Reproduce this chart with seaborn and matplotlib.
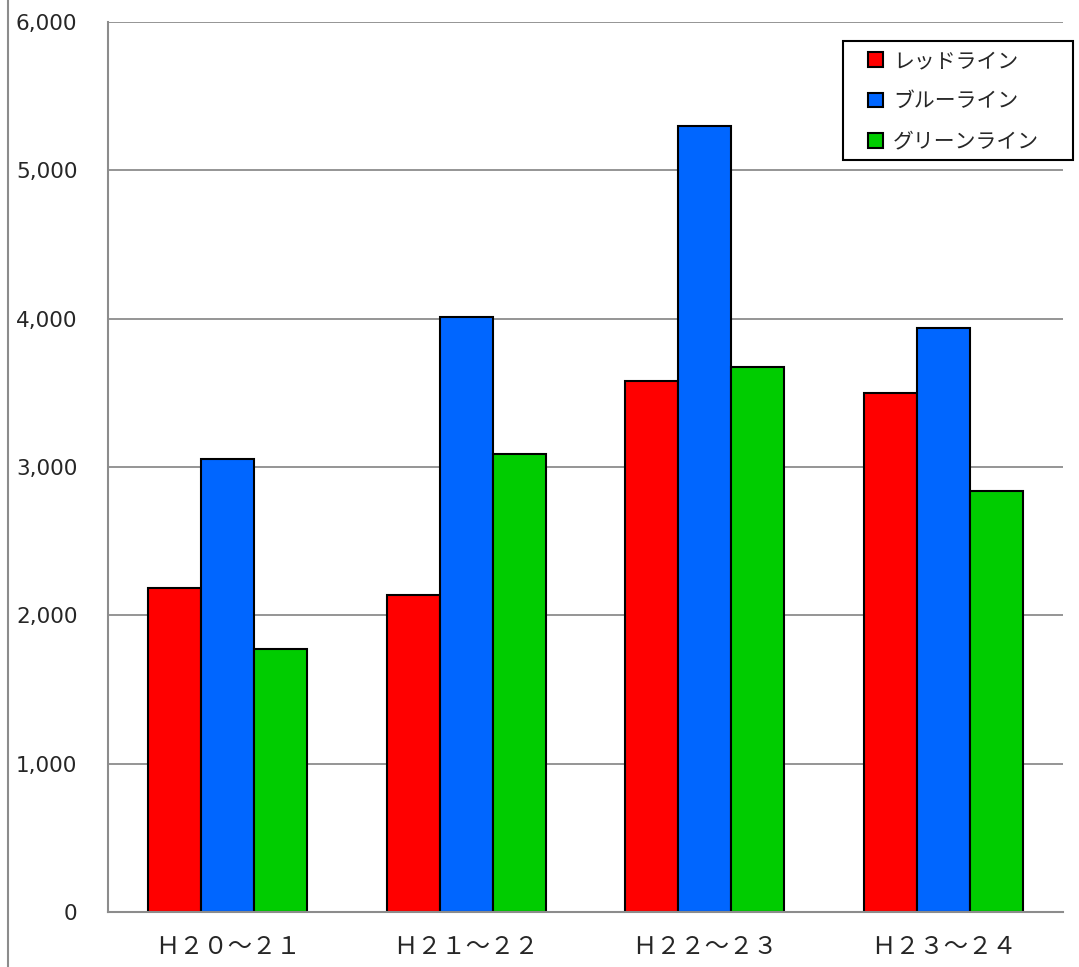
import matplotlib
matplotlib.use("Agg")
import matplotlib.pyplot as plt
import seaborn as sns
import pandas as pd
from matplotlib.lines import Line2D
from matplotlib.patches import Rectangle

categories = ["Ｈ２０～２１", "Ｈ２１～２２", "Ｈ２２～２３", "Ｈ２３～２４"]
series_names = ["レッドライン", "ブルーライン", "グリーンライン"]
red_values = [2185, 2137, 3580, 3499]
blue_values = [3054, 4011, 5299, 3937]
green_values = [1773, 3088, 3674, 2838]
y_ticks = [0, 1000, 2000, 3000, 4000, 5000, 6000]
y_tick_labels = ["0", "1,000", "2,000", "3,000", "4,000", "5,000", "6,000"]
colors = ["#FF0000", "#0066FF", "#00CC00"]

rows = []
for name, vals in zip(series_names, [red_values, blue_values, green_values]):
    for c, v in zip(categories, vals):
        rows.append({"period": c, "series": name, "value": v})
df = pd.DataFrame(rows)

sns.set_style("white")
plt.rcParams["font.family"] = ["Noto Sans CJK JP", "DejaVu Sans"]

fig = plt.figure(figsize=(10.79, 9.67), dpi=100)
ax = fig.add_axes([108/1079, 55/967, (1063-108)/1079, (912-22)/967])

sns.barplot(data=df, x="period", y="value", hue="series", order=categories,
            hue_order=series_names, palette=colors, width=0.667, gap=0,
            edgecolor="black", linewidth=1.5, ax=ax, saturation=1, errorbar=None)

ax.set_ylim(0, 6000)
ax.set_xlim(-0.5, 3.5)
ax.set_yticks(y_ticks, labels=y_tick_labels)
ax.tick_params(axis="y", length=0, pad=22)
ax.tick_params(axis="x", length=0, pad=16, labelsize=17.5)
for lbl in ax.get_yticklabels():
    lbl.set_fontfamily("DejaVu Sans")
    lbl.set_fontsize(15.5)
ax.set_xlabel("")
ax.set_ylabel("")
ax.yaxis.grid(True, color="#8c8c8c", linewidth=1.3)
ax.set_axisbelow(True)
for s in ["top", "right"]:
    ax.spines[s].set_visible(False)
for s in ["left", "bottom"]:
    ax.spines[s].set_color("#8c8c8c")
    ax.spines[s].set_linewidth(1.5)

handles = [Rectangle((0, 0), 1, 1, facecolor=c, edgecolor="black", linewidth=1.5) for c in colors]
leg = ax.legend(handles, series_names, loc="upper left",
                bbox_to_anchor=(868/1079, 1 - 50/967), bbox_transform=fig.transFigure,
                borderaxespad=0, frameon=False, fontsize=15, handlelength=0.72,
                handleheight=0.72, handletextpad=0.48, labelspacing=0.88,
                borderpad=0)
leg.set_zorder(6)
frame = Rectangle((843/1079, 1 - 160/967), (1073-843)/1079, (160-41)/967,
                  transform=fig.transFigure, facecolor="white",
                  edgecolor="black", linewidth=1.5, zorder=5, clip_on=False)
ax.add_patch(frame)

fig.add_artist(Line2D([8/1079, 8/1079], [0, 1], color="#8c8c8c", linewidth=1.5,
                      transform=fig.transFigure))

fig.savefig("out.png", dpi=100)
